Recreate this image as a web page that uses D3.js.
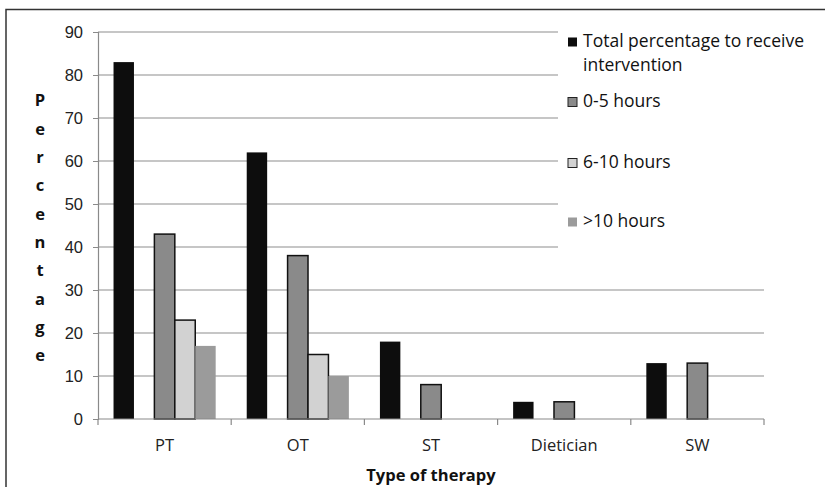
<!DOCTYPE html>
<html>
<head>
<meta charset="utf-8">
<script src="https://cdn.jsdelivr.net/npm/d3@7"></script>
<style>
  html, body { margin: 0; padding: 0; background: #fff; }
  svg { display: block; font-family: "Open Sans", "Liberation Sans", sans-serif; }
</style>
</head>
<body>
<svg id="chart" width="825" height="487"></svg>
<script>
const categories = ["PT", "OT", "ST", "Dietician", "SW"];
const seriesNames = ["Total percentage to receive intervention", "0-5 hours", "6-10 hours", ">10 hours"];
const slotKeys = ["total", "gap", "h0_5", "h6_10", "h10p"];
const seriesKeys = ["total", "h0_5", "h6_10", "h10p"];
const totalValues = [83, 62, 18, 4, 13];
const h0_5Values = [43, 38, 8, 4, 13];
const h6_10Values = [23, 15, 0, 0, 0];
const h10pValues = [17, 10, 0, 0, 0];
const yTicks = [0, 10, 20, 30, 40, 50, 60, 70, 80, 90];
const yTitle = "Percentage";
const xTitle = "Type of therapy";

const seriesValues = [totalValues, h0_5Values, h6_10Values, h10pValues];
const fills = ["#0d0d0d", "#8a8a8a", "#d2d2d2", "#9b9b9b"];
const strokes = ["none", "#111", "#111", "none"];

const svg = d3.select("#chart");
const margin = { left: 98, top: 32, right: 825 - 764, bottom: 487 - 419 };
const W = 825, H = 487;
const iw = W - margin.left - margin.right;
const ih = H - margin.top - margin.bottom;

// outer frame
svg.append("path").attr("d", "M6,487 L6,9.5 L825,9.5").attr("fill", "none").attr("stroke", "#333").attr("stroke-width", 1.5);

const g = svg.append("g").attr("transform", `translate(${margin.left},${margin.top})`);

const x = d3.scaleBand().domain(categories).range([0, iw]).paddingInner(0).paddingOuter(0);
const xs = d3.scaleBand().domain(slotKeys).range([0, x.bandwidth()]).paddingInner(0).paddingOuter(0.76);
const y = d3.scaleLinear().domain([0, 90]).range([ih, 0]);

// gridlines
g.append("g").selectAll("line").data(yTicks.filter(d => d > 0)).join("line")
  .attr("x1", 0).attr("x2", iw)
  .attr("y1", d => y(d)).attr("y2", d => y(d))
  .attr("stroke", "#8e8e8e").attr("stroke-width", 1.2);

// y axis
const yAxis = g.append("g").call(d3.axisLeft(y).tickValues(yTicks).tickSize(5).tickPadding(10));
yAxis.select(".domain").attr("stroke", "#8a8a8a").attr("stroke-width", 1.2);
yAxis.selectAll(".tick line").attr("stroke", "#8a8a8a");
yAxis.selectAll(".tick text").attr("font-size", 16.5).attr("fill", "#222");

// bars
seriesKeys.forEach((key, si) => {
  g.append("g").selectAll("rect").data(categories.map((c, i) => ({ c, v: seriesValues[si][i] })).filter(d => d.v > 0)).join("rect")
    .attr("x", d => x(d.c) + xs(key))
    .attr("width", xs.bandwidth())
    .attr("y", d => y(d.v))
    .attr("height", d => y(0) - y(d.v))
    .attr("fill", fills[si])
    .attr("stroke", strokes[si])
    .attr("stroke-width", 1.5);
});

// x axis
const xAxisG = g.append("g").attr("transform", `translate(0,${ih})`);
xAxisG.append("line").attr("x1", 0).attr("x2", iw).attr("stroke", "#8a8a8a").attr("stroke-width", 1.2);
const boundaries = [0].concat(categories.map(c => x(c) + x.bandwidth()));
xAxisG.selectAll("line.tk").data(boundaries).join("line").attr("class", "tk")
  .attr("x1", d => d).attr("x2", d => d).attr("y1", 0).attr("y2", 6)
  .attr("stroke", "#8a8a8a").attr("stroke-width", 1.2);
xAxisG.selectAll("text").data(categories).join("text")
  .attr("x", d => x(d) + x.bandwidth() / 2).attr("y", 28)
  .attr("text-anchor", "middle").attr("dominant-baseline", "middle")
  .attr("font-size", 16.5).attr("fill", "#222").text(d => d);

// x title
svg.append("text").attr("x", margin.left + iw / 2).attr("y", 477)
  .attr("text-anchor", "middle").attr("dominant-baseline", "middle")
  .attr("font-size", 16.5).attr("font-weight", "bold").attr("fill", "#111").text(xTitle);

// y title - stacked letters
svg.append("g").selectAll("text").data(yTitle.split("")).join("text")
  .attr("x", 40).attr("y", (d, i) => 102 + i * 28.3)
  .attr("text-anchor", "middle").attr("dominant-baseline", "middle")
  .attr("font-size", 16.5).attr("font-weight", "bold").attr("fill", "#111").text(d => d);

// legend
const leg = svg.append("g");
leg.append("rect").attr("x", 558).attr("y", 20).attr("width", 267).attr("height", 236).attr("fill", "#fff");
const legY = [42, 102, 163, 222];
seriesNames.forEach((name, i) => {
  leg.append("rect").attr("x", 568).attr("y", legY[i] - 4.5).attr("width", 9).attr("height", 9)
    .attr("fill", fills[i]).attr("stroke", strokes[i] === "none" ? "none" : "#222").attr("stroke-width", 1);
  const t = leg.append("text").attr("x", 583).attr("y", legY[i])
    .attr("dominant-baseline", "middle").attr("font-size", 17.5).attr("fill", "#111");
  if (i === 0) {
    t.append("tspan").attr("x", 583).text("Total percentage to receive");
    t.append("tspan").attr("x", 583).attr("dy", 24).text("intervention");
  } else {
    t.text(name);
  }
});
</script>
</body>
</html>
